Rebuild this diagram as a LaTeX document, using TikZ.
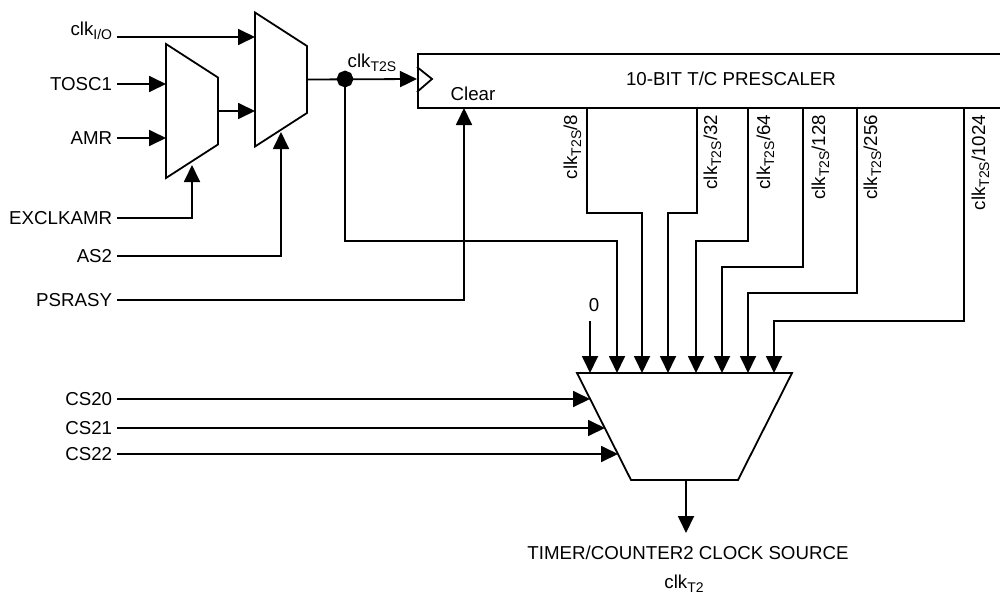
\documentclass[tikz,border=0pt]{standalone}
\usepackage{fontspec}
\setmainfont{Liberation Sans}
\usetikzlibrary{arrows.meta,shapes.geometric}
\newcommand{\clksub}[1]{clk\raisebox{-4pt}{\fontsize{14}{14}\selectfont #1}}

\begin{document}
\begin{tikzpicture}[
x=1pt,y=-1pt,
line width=1.8pt,
lbl/.style={anchor=east,inner xsep=4pt,inner ysep=0pt,text height=13pt,text depth=1pt,font=\fontsize{18.7}{20}\selectfont},
txt/.style={inner sep=0pt,font=\fontsize{18.7}{20}\selectfont},
rotlbl/.style={anchor=base east,rotate=90,inner sep=0pt,font=\fontsize{18.7}{20}\selectfont},
muxv/.style={draw,trapezium,trapezium stretches=true,trapezium angle=63.4,shape border rotate=270,inner sep=0pt,text width=1pt,text height=1pt,text depth=0pt,minimum width=134pt,minimum height=52pt},
muxh/.style={draw,trapezium,trapezium stretches=true,trapezium angle=63.2,shape border rotate=180,inner sep=0pt,text width=1pt,text height=1pt,text depth=0pt,minimum width=215pt,minimum height=107pt},
wire/.style={-{Triangle[length=17pt,width=16pt]}},
]
\useasboundingbox (0,0) rectangle (1000,594);
% inputs on the left
\node[lbl] (clkio) at (117,30) {\clksub{I/O}};
\node[lbl] (tosc) at (117,84) {TOSC1};
\node[lbl] (amr) at (117,138) {AMR};
\node[lbl] (excl) at (117,218) {EXCLKAMR};
\node[lbl] (astwo) at (117,256) {AS2};
\node[lbl] (psr) at (117,300) {PSRASY};
\node[lbl] (cstwozero) at (117,399) {CS20};
\node[lbl] (cstwoone) at (117,428) {CS21};
\node[lbl] (cstwotwo) at (117,454) {CS22};
\coordinate (clkiostart) at (117,37);
% muxes
\node[muxv] (muxa) at (192,111) {};
\node[muxv] (muxb) at (281,79.5) {};
\node[muxh] (muxc) at (684.5,426.5) {};
% prescaler
\node[draw,rectangle,anchor=north west,inner sep=0pt,minimum width=590pt,minimum height=54pt] (presc) at (417,53) {};
\node[txt] (prescname) at (731,79) {10-BIT T/C PRESCALER};
\node[txt] (clr) at (473,94) {Clear};
\node[draw,fill=black,regular polygon,regular polygon sides=8,shape border rotate=22.5,inner sep=0pt,minimum size=15pt] (jct) at (345,79) {};
\node[txt,anchor=base] (clktwos) at (372,67) {\clksub{T2S}};
\coordinate (ckin) at (417,79);
\coordinate (cka) at (417,67);
\coordinate (ckb) at (432,79);
\coordinate (ckc) at (417,92);
\draw (cka) -- (ckb) -- (ckc);
% prescaler tap labels
\node[rotlbl] (ltap) at (577,114) {\clksub{T2S}/8};
\node[rotlbl] (ltb) at (717,114) {\clksub{T2S}/32};
\node[rotlbl] (ltc) at (770,114) {\clksub{T2S}/64};
\node[rotlbl] (ltd) at (825,114) {\clksub{T2S}/128};
\node[rotlbl] (lte) at (877,114) {\clksub{T2S}/256};
\node[rotlbl] (ltf) at (985,114) {\clksub{T2S}/1024};
\coordinate (qa) at (587,107);
\coordinate (qb) at (697,107);
\coordinate (qc) at (748,107);
\coordinate (qd) at (803,107);
\coordinate (qe) at (857,107);
\coordinate (qf) at (964,107);
% inputs of the big mux
\node[txt] (zero) at (594,305) {0};
\coordinate (zerostart) at (590,321);
\coordinate (pa) at (590,373);
\coordinate (pb) at (617,373);
\coordinate (pc) at (642,373);
\coordinate (pd) at (668,373);
\coordinate (pe) at (696,373);
\coordinate (pf) at (722,373);
\coordinate (pg) at (748,373);
\coordinate (ph) at (774,373);
\coordinate (sa) at (590,399);
\coordinate (sb) at (605,428);
\coordinate (sc) at (618,454);
% output
\node[txt] (src) at (688,553) {TIMER/COUNTER2 CLOCK SOURCE};
\node[txt,anchor=base] (clktwo) at (684,588) {\clksub{T2}};
\coordinate (srctop) at (686,533);
% connectors
\draw[wire] (clkiostart) -- (255,37);
\draw[wire] (tosc.east) -- (166,84);
\draw[wire] (amr.east) -- (166,138);
\draw[wire] (muxa.east) -- (255,111);
\draw[wire] (excl.east) -| (192,165);
\draw[wire] (astwo.east) -| (281,132);
\draw[wire] (psr.east) -| (464,108);
\draw[wire] (muxb.east) -- (ckin);
\draw[wire] (jct.center) |- (617,241) -- (pb);
\draw[wire] (qa) |- (642,213) -- (pc);
\draw[wire] (qb) |- (668,213) -- (pd);
\draw[wire] (qc) |- (696,241) -- (pe);
\draw[wire] (qd) |- (722,267) -- (pf);
\draw[wire] (qe) |- (748,293) -- (pg);
\draw[wire] (qf) |- (774,321) -- (ph);
\draw[wire] (zerostart) -- (pa);
\draw[wire] (cstwozero.east) -- (sa);
\draw[wire] (cstwoone.east) -- (sb);
\draw[wire] (cstwotwo.east) -- (sc);
\draw[wire] (srctop |- muxc.south) -- (srctop);
\end{tikzpicture}
\end{document}
